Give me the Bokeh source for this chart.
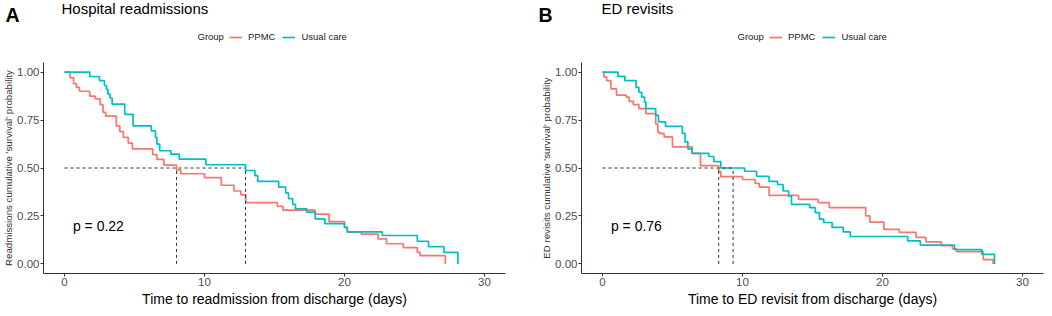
from bokeh.plotting import figure
from bokeh.layouts import row, column
from bokeh.models import (Legend, LegendItem, Label, FixedTicker,
                          NumeralTickFormatter, Range1d)
from bokeh.embed import file_html
from bokeh.resources import INLINE

FONT = "Liberation Sans"
RED = "#F8766D"
TEAL = "#00BFC4"

groups = ["PPMC", "Usual care"]
x_ticks = [0, 10, 20, 30]
y_ticks = [0.0, 0.25, 0.5, 0.75, 1.0]

# Panel A: hospital readmissions (Kaplan-Meier steps: time, survival after step)
a_ppmc_time = [0, 0.4, 0.65, 0.85, 1.07, 1.8, 2.2, 2.55, 2.75, 2.95, 3.7, 3.95, 4.2,
               4.55, 4.85, 6.3, 6.6, 7.1, 8.0, 8.3, 10.0, 11.2, 12.1, 12.6, 12.95,
               15.2, 15.6, 17.9, 18.9, 20.0, 20.2, 21.2, 22.4, 23.0, 24.2, 25.2,
               25.4, 27.2]
a_ppmc_surv = [1.0, 0.97, 0.94, 0.92, 0.90, 0.875, 0.86, 0.83, 0.79, 0.77, 0.72, 0.69,
               0.66, 0.63, 0.60, 0.57, 0.545, 0.515, 0.49, 0.47, 0.45, 0.41, 0.38,
               0.36, 0.32, 0.30, 0.28, 0.26, 0.22, 0.19, 0.165, 0.155, 0.13, 0.105,
               0.085, 0.06, 0.043, 0.0]
a_usual_time = [0, 1.8, 2.5, 2.85, 3.0, 3.1, 3.25, 3.4, 4.3, 4.9, 6.2, 6.5, 6.6, 6.8,
                7.6, 8.2, 10.1, 12.93, 13.6, 13.8, 15.3, 15.8, 16.0, 16.3, 16.5,
                17.3, 17.9, 18.6, 20.0, 20.2, 22.7, 25.2, 26.0, 27.1, 28.1]
a_usual_surv = [1.0, 0.977, 0.955, 0.93, 0.91, 0.885, 0.865, 0.833, 0.78, 0.72, 0.694,
                0.66, 0.624, 0.59, 0.572, 0.546, 0.517, 0.487, 0.46, 0.43, 0.40,
                0.37, 0.34, 0.31, 0.287, 0.27, 0.235, 0.21, 0.19, 0.167, 0.148,
                0.118, 0.09, 0.06, 0.0]
a_medians = [8.0, 12.93]
a_pval = "p = 0.22"

# Panel B: ED revisits
b_ppmc_time = [0, 0.1, 0.3, 0.6, 1.0, 1.7, 1.9, 2.2, 2.6, 3.1, 3.8, 3.95, 4.05, 4.4,
               5.0, 6.4, 7.0, 8.3, 8.45, 10.0, 10.9, 11.2, 11.9, 14.0, 15.4, 16.2,
               18.8, 19.1, 20.1, 21.2, 22.4, 23.1, 24.2, 25.0, 25.3, 27.2, 27.9]
b_ppmc_surv = [1.0, 0.975, 0.955, 0.912, 0.88, 0.87, 0.847, 0.83, 0.81, 0.783, 0.73,
               0.688, 0.68, 0.662, 0.61, 0.576, 0.512, 0.481, 0.455, 0.44, 0.42,
               0.40, 0.357, 0.336, 0.32, 0.293, 0.25, 0.218, 0.18, 0.164, 0.138,
               0.115, 0.095, 0.078, 0.064, 0.022, 0.0]
b_usual_time = [0, 1.1, 1.6, 2.4, 2.6, 2.8, 3.0, 3.1, 3.8, 4.0, 4.5, 5.7, 5.9, 6.1,
                6.4, 7.6, 7.95, 8.45, 10.15, 11.0, 11.9, 12.5, 12.9, 13.3, 13.5,
                14.8, 15.2, 15.5, 15.8, 16.4, 17.2, 17.7, 21.8, 22.7, 25.15, 27.1,
                28.0]
b_usual_surv = [1.0, 0.978, 0.955, 0.92, 0.895, 0.87, 0.843, 0.81, 0.774, 0.74,
                0.717, 0.68, 0.636, 0.60, 0.576, 0.56, 0.533, 0.50, 0.483, 0.457,
                0.43, 0.414, 0.38, 0.353, 0.31, 0.293, 0.267, 0.233, 0.216, 0.19,
                0.167, 0.143, 0.12, 0.098, 0.074, 0.05, 0.0]
b_medians = [8.3, 9.33]
b_pval = "p = 0.76"

HEADER_H = 52
TOTAL_W = 1052
PANEL_X = [0, 540]
LETTER_X = [5, 538]


def add_header_text(h, x, letter_x, letter, title, series):
    # screen y measured from header bottom
    h.add_layout(Label(x=letter_x, y=HEADER_H - 14.5, x_units="screen",
                       y_units="screen", text=letter, text_font=FONT,
                       text_font_size="19.5px", text_font_style="bold",
                       text_color="black", text_baseline="alphabetic"))
    h.add_layout(Label(x=x + 61, y=HEADER_H - 8, x_units="screen", y_units="screen",
                       text=title, text_font=FONT, text_font_size="15px",
                       text_color="black", text_baseline="alphabetic"))
    h.add_layout(Label(x=x + 197, y=HEADER_H - 35.5, x_units="screen",
                       y_units="screen", text="Group", text_font=FONT,
                       text_font_size="9.5px", text_color="#222222",
                       text_baseline="alphabetic"))
    # hidden copies of the curves, only used as legend glyph sources
    rs = [h.step(t, s, mode="after", line_color=c, line_width=1.7, visible=False)
          for (t, s), c in zip(series, (RED, TEAL))]
    legend = Legend(
        items=[LegendItem(label=g, renderers=[r]) for g, r in zip(groups, rs)],
        orientation="horizontal", location=(x + 229, HEADER_H - 42.7),
        glyph_width=13, glyph_height=12, label_height=12, label_width=10,
        label_standoff=6, spacing=7, padding=0, margin=0,
        border_line_alpha=0, background_fill_alpha=0,
        label_text_font=FONT, label_text_font_size="9.5px",
        label_text_color="#222222")
    h.add_layout(legend)


def make_panel(ylabel, xlabel, series, medians, pval, width, right, bottom):
    p = figure(width=width, height=316 - HEADER_H, output_backend="svg",
               toolbar_location=None, title=None,
               x_range=Range1d(-1.5, 31.5), y_range=Range1d(-0.05, 1.05),
               min_border_left=43, min_border_right=right,
               min_border_top=62 - HEADER_H, min_border_bottom=bottom)
    p.outline_line_color = None
    p.grid.visible = False
    p.background_fill_color = "white"
    p.border_fill_color = "white"

    for ax in (p.xaxis[0], p.yaxis[0]):
        ax.axis_line_color = "#333333"
        ax.axis_line_width = 1
        ax.major_tick_line_color = "#333333"
        ax.major_tick_in = 0
        ax.major_tick_out = 3
        ax.minor_tick_line_color = None
        ax.major_label_text_font = FONT
        ax.major_label_text_font_size = "11.5px"
        ax.major_label_text_color = "#4d4d4d"
        ax.major_label_standoff = 1
        ax.axis_label_text_font = FONT
        ax.axis_label_text_font_style = "normal"

    p.xaxis.ticker = FixedTicker(ticks=x_ticks)
    p.yaxis.ticker = FixedTicker(ticks=y_ticks)
    p.yaxis.formatter = NumeralTickFormatter(format="0.00")
    p.xaxis.axis_label = xlabel
    p.xaxis.axis_label_text_font_size = "14px"
    p.xaxis.axis_label_text_color = "black"
    p.xaxis.axis_label_standoff = 2
    p.yaxis.axis_label = ylabel
    p.yaxis.axis_label_text_font_size = "9.7px"
    p.yaxis.axis_label_text_color = "#333333"
    p.yaxis.axis_label_standoff = 0

    for (t, s), col in zip(series, [RED, TEAL]):
        p.step(t, s, mode="after", line_color=col, line_width=1.7)

    # median survival lines
    p.segment(x0=[0], y0=[0.5], x1=[max(medians)], y1=[0.5],
              line_color="#333333", line_width=1, line_dash="3 3")
    p.segment(x0=medians, y0=[0] * len(medians), x1=medians,
              y1=[0.5] * len(medians),
              line_color="#333333", line_width=1, line_dash="3 3")

    p.add_layout(Label(x=0.6, y=0.198, text=pval, text_font=FONT,
                       text_font_size="14px", text_color="black",
                       text_baseline="alphabetic"))
    return p


a_series = [(a_ppmc_time, a_ppmc_surv), (a_usual_time, a_usual_surv)]
b_series = [(b_ppmc_time, b_ppmc_surv), (b_usual_time, b_usual_surv)]

header = figure(width=TOTAL_W, height=HEADER_H, output_backend="svg",
                toolbar_location=None, title=None,
                x_range=Range1d(1000, 1100), y_range=Range1d(1000, 1100),
                x_axis_type=None, y_axis_type=None,
                min_border_left=0, min_border_right=0,
                min_border_top=0, min_border_bottom=0)
header.outline_line_color = None
header.background_fill_color = "white"
header.border_fill_color = "white"
add_header_text(header, PANEL_X[0], LETTER_X[0], "A", "Hospital readmissions",
                a_series)
add_header_text(header, PANEL_X[1], LETTER_X[1], "B", "ED revisits", b_series)

pa = make_panel("Readmissions cumulative 'survival' probability",
                "Time to readmission from discharge (days)",
                a_series, a_medians, a_pval, width=538, right=33, bottom=43)
pb = make_panel("ED revisits cumulative 'survival' probability",
                "Time to ED revisit from discharge (days)",
                b_series, b_medians, b_pval, width=514, right=9, bottom=41)

layout = column(header, row(pa, pb))
open("out.html", "w").write(file_html(layout, INLINE))
